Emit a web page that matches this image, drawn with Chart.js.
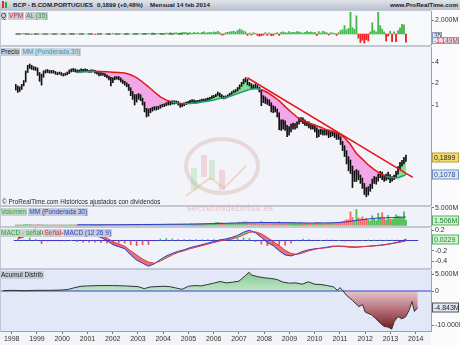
<!DOCTYPE html>
<html>
<head>
<meta charset="utf-8">
<script src="https://cdn.jsdelivr.net/npm/chart.js@4.4.1/dist/chart.umd.min.js"></script>
<style>
  body { margin: 0; width: 460px; height: 345px; overflow: hidden; position: relative;
         background: #c2c8d2; font-family: "Liberation Sans", Arial, sans-serif; }
  canvas { position: absolute; left: 0; }
  #title { position: absolute; left: 0; top: 0; width: 460px; height: 10px;
           background: linear-gradient(#dfe3ea, #b9c2d0); font-size: 6.2px; font-weight: bold;
           line-height: 10px; color: #1a1a2a; white-space: nowrap; }
  #title span { position: absolute; top: 0; }
  #axisBg { position: absolute; left: 431px; top: 10px; width: 29px; height: 335px; background: #fbfbfd; }
  #xBg { position: absolute; left: 0; top: 332px; width: 431px; height: 13px; background: #f3f4f7; }
  .tags { position: absolute; left: 0; display: flex; gap: 1px; z-index: 5; }
  .tags span { font-size: 6.5px; line-height: 8px; height: 8px; padding: 0 1px; background: #c5cdd8;
               white-space: nowrap; }
  #copy { position: absolute; left: 2px; top: 198px; font-size: 6.3px; color: #222; z-index: 5; white-space: nowrap; }
  #mark { position: absolute; left: 187px; top: 203px; font-size: 9px; font-family: "DejaVu Serif", serif;
          color: rgba(215,140,140,0.45); z-index: 5; white-space: nowrap; }
  #logo { position: absolute; left: 180px; top: 130px; z-index: 4; }
</style>
</head>
<body>
<div id="axisBg"></div>
<div id="xBg"></div>
<div id="title">
  <span style="left:2px;top:1px;width:2px;height:7px;background:#d33"></span>
  <span style="left:5px;top:2px;width:2px;height:6px;background:#3a3"></span>
  <span style="left:13px">BCP - B.COM.PORTUGUES</span>
  <span style="left:97px">0,1899 (+0,48%)</span>
  <span style="left:150px">Mensual 14 feb 2014</span>
  <span style="left:auto;right:2px">www.ProRealTime.com</span>
</div>
<div class="tags" style="top:12px"><span style="color:#222">Q</span><span style="color:#e02020">VPM</span><span style="color:#2f9f3a">AL (35)</span></div>
<div class="tags" style="top:48px"><span style="color:#222">Precio</span><span style="color:#3b94a8;background:#ccd8e3">MM (Ponderada 30)</span></div>
<div class="tags" style="top:208px"><span style="color:#2f9f3a;background:#c4d6cb">Volumen</span><span style="color:#2d3dbf">MM (Ponderada 30)</span></div>
<div class="tags" style="top:229px"><span style="color:#2f9f3a;background:#c4d6cb">MACD - señal</span><span style="color:#e03030">Señal</span><span style="color:#2d3dbf">MACD (12 26 9)</span></div>
<div class="tags" style="top:271px"><span style="color:#222">Acumul Distrib</span></div>
<div id="copy">© ProRealTime.com Históricos ajustados con dividendos</div>
<svg id="logo" width="90" height="70">
  <ellipse cx="42" cy="36" rx="36" ry="27" fill="none" stroke="rgba(205,165,150,0.35)" stroke-width="4"/>
  <rect x="11" y="38" width="6" height="22" fill="rgba(120,200,120,0.25)"/>
  <rect x="21" y="25" width="6" height="22" fill="rgba(220,120,120,0.25)"/>
  <rect x="29" y="30" width="6" height="20" fill="rgba(120,200,120,0.25)"/>
  <rect x="39" y="40" width="6" height="20" fill="rgba(220,120,120,0.25)"/>
  <path d="M6 66 L30 48 L44 58 L66 36" fill="none" stroke="rgba(230,170,120,0.35)" stroke-width="2"/>
</svg>
<div id="mark">secretosdebolsa.es</div>

<script>
// --- data ---------------------------------------------------------------
// monthly bars, first one = sep 1997, last one = feb 2014
const START = 1997 + 8 / 12;
const YEARS = [1998, 1999, 2000, 2001, 2002, 2003, 2004, 2005, 2006, 2007, 2008, 2009, 2010, 2011, 2012, 2013, 2014];

const CLOSE = [
  1.85, 1.65, 1.70, 1.90,
  2.10, 2.90, 3.45, 3.55, 3.30, 3.30, 3.25, 2.80, 2.55, 2.50, 2.90, 2.95,
  3.00, 2.90, 2.95, 2.90, 2.80, 2.75, 2.80, 2.70, 2.65, 2.70, 2.80, 3.00,
  3.05, 3.10, 3.00, 2.95, 3.00, 3.10, 3.05, 3.10, 3.00, 2.95, 3.00, 3.00,
  2.90, 2.80, 2.70, 2.75, 2.70, 2.60, 2.50, 2.40, 2.10, 2.30, 2.40, 2.40,
  2.35, 2.20, 2.10, 2.00, 1.90, 1.70, 1.45, 1.35, 1.15, 1.30, 1.35, 1.20,
  1.05, 0.85, 0.72, 0.82, 0.85, 0.88, 0.90, 0.90, 0.92, 0.97, 0.98, 1.00,
  1.03, 1.07, 1.05, 1.10, 1.08, 1.10, 1.05, 0.98, 1.00, 1.03, 1.07, 1.10,
  1.12, 1.15, 1.12, 1.10, 1.12, 1.15, 1.18, 1.17, 1.20, 1.22, 1.25, 1.30,
  1.32, 1.38, 1.45, 1.38, 1.30, 1.28, 1.30, 1.35, 1.42, 1.50, 1.55, 1.60,
  1.70, 1.85, 2.00, 2.20, 2.25, 2.00, 1.95, 1.85, 1.80, 1.85, 1.75, 1.60,
  1.20, 1.25, 1.15, 1.10, 1.05, 0.85, 0.90, 0.85, 0.75, 0.55, 0.50, 0.55,
  0.50, 0.42, 0.45, 0.48, 0.50, 0.50, 0.55, 0.62, 0.63, 0.58, 0.55, 0.55,
  0.52, 0.50, 0.50, 0.47, 0.40, 0.42, 0.43, 0.40, 0.42, 0.41, 0.38, 0.39,
  0.40, 0.38, 0.37, 0.35, 0.30, 0.25, 0.22, 0.18, 0.15, 0.13, 0.09, 0.10,
  0.11, 0.10, 0.09, 0.075, 0.065, 0.060, 0.065, 0.070, 0.085, 0.090, 0.090, 0.100,
  0.110, 0.100, 0.095, 0.100, 0.105, 0.090, 0.095, 0.100, 0.110, 0.130, 0.150, 0.160,
  0.170, 0.190
];
const HIGH = [
  1.95, 1.85, 1.80, 1.95,
  2.20, 3.00, 3.60, 3.75, 3.60, 3.45, 3.40, 3.30, 2.85, 2.70, 3.00, 3.10,
  3.15, 3.05, 3.05, 3.05, 2.95, 2.85, 2.90, 2.85, 2.75, 2.80, 2.90, 3.10,
  3.20, 3.25, 3.20, 3.10, 3.10, 3.20, 3.15, 3.20, 3.15, 3.05, 3.10, 3.10,
  3.05, 2.95, 2.85, 2.85, 2.80, 2.75, 2.65, 2.55, 2.45, 2.40, 2.50, 2.50,
  2.50, 2.40, 2.25, 2.15, 2.05, 1.95, 1.75, 1.55, 1.40, 1.40, 1.45, 1.40,
  1.25, 1.10, 0.90, 0.88, 0.90, 0.93, 0.95, 0.95, 0.96, 1.00, 1.02, 1.04,
  1.08, 1.12, 1.12, 1.15, 1.15, 1.14, 1.12, 1.06, 1.04, 1.07, 1.10, 1.13,
  1.16, 1.19, 1.18, 1.15, 1.16, 1.18, 1.21, 1.21, 1.23, 1.26, 1.28, 1.34,
  1.37, 1.42, 1.52, 1.47, 1.40, 1.34, 1.34, 1.39, 1.46, 1.54, 1.60, 1.65,
  1.76, 1.92, 2.08, 2.30, 2.42, 2.28, 2.08, 2.00, 1.92, 1.98, 1.90, 1.78,
  1.62, 1.35, 1.30, 1.22, 1.18, 1.08, 0.98, 0.95, 0.88, 0.78, 0.62, 0.62,
  0.60, 0.52, 0.50, 0.54, 0.56, 0.55, 0.58, 0.66, 0.67, 0.66, 0.62, 0.59,
  0.58, 0.55, 0.54, 0.53, 0.48, 0.45, 0.46, 0.45, 0.45, 0.45, 0.43, 0.42,
  0.43, 0.42, 0.40, 0.40, 0.36, 0.31, 0.27, 0.23, 0.19, 0.17, 0.14, 0.12,
  0.125, 0.12, 0.105, 0.095, 0.080, 0.070, 0.072, 0.078, 0.092, 0.100, 0.098, 0.108,
  0.118, 0.115, 0.105, 0.108, 0.115, 0.106, 0.100, 0.105, 0.118, 0.138, 0.158, 0.168,
  0.185, 0.200
];
const LOW = [
  1.62, 1.50, 1.55, 1.65,
  1.85, 2.10, 2.85, 3.25, 3.15, 3.10, 3.05, 2.60, 2.15, 1.90, 2.45, 2.80,
  2.85, 2.80, 2.80, 2.80, 2.70, 2.65, 2.70, 2.60, 2.55, 2.60, 2.65, 2.75,
  2.90, 2.95, 2.90, 2.85, 2.85, 2.95, 2.95, 2.95, 2.90, 2.85, 2.85, 2.90,
  2.80, 2.70, 2.55, 2.60, 2.60, 2.50, 2.40, 2.25, 1.85, 2.05, 2.25, 2.30,
  2.25, 2.10, 2.00, 1.90, 1.80, 1.60, 1.35, 1.20, 1.00, 1.10, 1.20, 1.15,
  1.00, 0.80, 0.68, 0.70, 0.78, 0.82, 0.85, 0.85, 0.87, 0.90, 0.94, 0.95,
  0.98, 1.00, 1.00, 1.03, 1.03, 1.05, 1.00, 0.93, 0.95, 0.98, 1.01, 1.05,
  1.07, 1.10, 1.08, 1.06, 1.07, 1.10, 1.13, 1.13, 1.15, 1.17, 1.20, 1.24,
  1.27, 1.31, 1.37, 1.30, 1.24, 1.22, 1.24, 1.28, 1.34, 1.41, 1.48, 1.52,
  1.58, 1.68, 1.82, 1.98, 2.10, 1.92, 1.85, 1.65, 1.68, 1.75, 1.68, 1.52,
  0.98, 1.08, 1.05, 1.02, 0.98, 0.80, 0.78, 0.80, 0.68, 0.45, 0.44, 0.46,
  0.44, 0.36, 0.38, 0.42, 0.46, 0.46, 0.48, 0.54, 0.58, 0.55, 0.52, 0.51,
  0.48, 0.46, 0.46, 0.42, 0.35, 0.36, 0.39, 0.38, 0.38, 0.38, 0.35, 0.36,
  0.37, 0.35, 0.33, 0.33, 0.28, 0.23, 0.19, 0.15, 0.12, 0.11, 0.07, 0.085,
  0.085, 0.090, 0.080, 0.068, 0.056, 0.052, 0.055, 0.062, 0.068, 0.080, 0.078, 0.086,
  0.096, 0.090, 0.085, 0.088, 0.092, 0.082, 0.086, 0.090, 0.095, 0.108, 0.125, 0.140,
  0.150, 0.162
];

// weighted moving average 30
const MA_X = [2000.25, 2000.5, 2000.75, 2001.0, 2001.25, 2001.5, 2001.75, 2002.0, 2002.25, 2002.5, 2002.75,
  2003.0, 2003.25, 2003.5, 2003.75, 2004.0, 2004.25, 2004.5, 2004.75, 2005.0, 2005.25, 2005.5, 2005.75,
  2006.0, 2006.25, 2006.5, 2006.75, 2007.0, 2007.25, 2007.5, 2007.75, 2008.0, 2008.25, 2008.5, 2008.75,
  2009.0, 2009.25, 2009.5, 2009.75, 2010.0, 2010.25, 2010.5, 2010.75, 2011.0, 2011.25, 2011.5, 2011.75,
  2012.0, 2012.25, 2012.5, 2012.75, 2013.0, 2013.25, 2013.5, 2013.75, 2014.0, 2014.083];
const MA_Y = [2.85, 2.90, 2.95, 2.97, 2.95, 2.92, 2.88, 2.85, 2.80, 2.65, 2.42,
  2.10, 1.80, 1.52, 1.30, 1.17, 1.10, 1.06, 1.04, 1.05, 1.07, 1.10, 1.13,
  1.18, 1.23, 1.28, 1.35, 1.45, 1.55, 1.65, 1.70, 1.65, 1.50, 1.32, 1.15,
  0.95, 0.80, 0.68, 0.60, 0.56, 0.52, 0.49, 0.45, 0.43, 0.40, 0.35, 0.28,
  0.21, 0.175, 0.145, 0.125, 0.11, 0.10, 0.097, 0.096, 0.103, 0.108];

// trend line drawn over the 2007-2014 fall
const TREND_X = [2007.41, 2014.37];
const TREND_Y = [2.41, 0.097];

// VPM (millions), monthly like the price
const VPM = [
  0, 0.05, 0, 0.05,
  0.1, 0.05, 0, 0, -0.05, 0, 0.05, 0, 0, 0.05, 0, 0,
  0, 0.05, 0, 0, 0, 0.05, 0, 0, 0.05, 0, 0, 0.05,
  0.1, 0.05, 0, 0.05, 0, 0, 0.05, 0, 0, 0, 0.05, 0,
  -0.05, 0, 0, 0.05, 0, 0, 0, -0.05, 0, 0.1, 0, 0,
  0, 0.05, 0, 0, 0.1, 0.05, 0, 0, 0.05, 0.1, 0.05, 0.05,
  0, 0.1, 0.05, 0.1, 0.05, 0.15, 0.1, 0.05, 0.1, 0.1, 0.1, 0.05,
  0.15, 0.1, 0.2, 0.1, 0.15, 0.2, 0.1, 0.15, 0.2, 0.25, 0.2, 0.15,
  0.2, 0.1, 0.25, 0.15, 0.2, 0.1, 0.25, 0.3, 0.15, 0.2, 0.25, 0.2,
  0.3, 0.25, 0.4, 0.2, -0.15, -0.1, 0.2, 0.25, 0.3, 0.35, 0.4, 0.3,
  0.5, 0.7, 0.6, 0.4, 0.3, -0.2, 0.15, -0.15, 0.2, 0.1, -0.2, -0.3,
  -0.25, -0.15, 0.2, -0.2, 0.15, -0.25, -0.2, 0.1, 0.2, -0.2, 0.25, 0.3,
  0.2, 0.15, 0.35, 0.2, 0.25, 0.2, 0.35, 0.3, 0.2, 0.15, 0.25, 0.4,
  0.25, 0.3, 0.2, 0.25, -0.2, 0.35, 0.15, 0.4, 0.3, 0.2, -0.15, 0.2,
  0.15, 0.1, -0.2, 0.2, 0.5, 0.6, 1.2, 0.6, 0.8, 3.1, 0.9, 0.7,
  2.6, -0.6, -1.2, -0.9, -1.3, -0.8, -1.0, 0.3, 1.6, 0.5, 0.3, 3.1,
  1.2, 0.7, 0.3, -1.0, -0.3, 0.4, -1.1, 0.3, -1.1, 0.5, 0.9, 1.4,
  1.3, -1.15
];

// volume (millions), monthly
const VOLUME = [
  0.10, 0.12, 0.10, 0.08,
  0.15, 0.25, 0.20, 0.18, 0.15, 0.12, 0.12, 0.18, 0.15, 0.16, 0.12, 0.10,
  0.12, 0.10, 0.10, 0.11, 0.10, 0.09, 0.10, 0.09, 0.10, 0.11, 0.10, 0.12,
  0.14, 0.12, 0.13, 0.12, 0.11, 0.12, 0.10, 0.12, 0.11, 0.13, 0.12, 0.11,
  0.14, 0.13, 0.15, 0.14, 0.12, 0.13, 0.12, 0.14, 0.20, 0.16, 0.14, 0.13,
  0.15, 0.14, 0.16, 0.15, 0.17, 0.19, 0.22, 0.20, 0.28, 0.25, 0.21, 0.20,
  0.22, 0.25, 0.30, 0.28, 0.26, 0.27, 0.25, 0.24, 0.26, 0.28, 0.25, 0.27,
  0.30, 0.28, 0.35, 0.30, 0.32, 0.29, 0.31, 0.33, 0.30, 0.35, 0.32, 0.30,
  0.38, 0.40, 0.35, 0.42, 0.37, 0.45, 0.40, 0.38, 0.48, 0.50, 0.55, 0.52,
  0.60, 0.75, 0.85, 0.70, 0.65, 0.55, 0.50, 0.55, 0.60, 0.70, 0.65, 0.60,
  0.80, 0.90, 0.85, 0.95, 1.00, 0.90, 0.75, 0.80, 0.70, 0.65, 0.70, 0.85,
  1.10, 0.85, 0.80, 0.70, 0.65, 0.80, 0.75, 0.60, 0.85, 1.00, 0.75, 0.60,
  0.70, 0.65, 0.75, 0.80, 0.70, 0.65, 0.60, 0.70, 0.75, 0.65, 0.60, 0.55,
  0.60, 0.55, 0.50, 0.60, 0.85, 0.70, 0.60, 0.55, 0.50, 0.60, 0.70, 0.65,
  0.70, 0.75, 0.80, 0.85, 0.90, 1.10, 1.30, 1.60, 1.50, 3.80, 2.20, 1.40,
  4.50, 2.10, 1.80, 2.40, 1.60, 2.00, 1.50, 1.20, 2.70, 1.80, 1.30, 3.40,
  2.20, 3.60, 2.00, 1.50, 2.80, 1.70, 1.60, 1.90, 3.00, 2.60, 2.40, 2.20,
  3.80, 1.51
];
const VOL_MA_X = [2000.25, 2001, 2002, 2003, 2004, 2005, 2006, 2007, 2008, 2009, 2010, 2011, 2011.5, 2012, 2012.5, 2013, 2013.5, 2014.083];
const VOL_MA_Y = [0.15, 0.14, 0.16, 0.22, 0.28, 0.33, 0.48, 0.65, 0.80, 0.75, 0.65, 0.70, 0.90, 1.40, 1.80, 2.10, 2.20, 2.35];

// MACD (12 26 9) and its signal, quarterly
const MACD_X = [1997.75, 1998.0, 1998.25, 1998.5, 1998.75, 1999.0, 1999.25, 1999.5, 1999.75, 2000.0, 2000.25,
  2000.5, 2000.75, 2001.0, 2001.25, 2001.5, 2001.75, 2002.0, 2002.25, 2002.5, 2002.75, 2003.0, 2003.25,
  2003.5, 2003.75, 2004.0, 2004.25, 2004.5, 2004.75, 2005.0, 2005.25, 2005.5, 2005.75, 2006.0, 2006.25,
  2006.5, 2006.75, 2007.0, 2007.25, 2007.5, 2007.75, 2008.0, 2008.25, 2008.5, 2008.75, 2009.0, 2009.25,
  2009.5, 2009.75, 2010.0, 2010.25, 2010.5, 2010.75, 2011.0, 2011.25, 2011.5, 2011.75, 2012.0, 2012.25,
  2012.5, 2012.75, 2013.0, 2013.25, 2013.5, 2013.75, 2014.083];
const MACD = [0.05, 0.08, 0.20, 0.22, 0.12, 0.18, 0.17, 0.14, 0.13, 0.15, 0.14,
  0.13, 0.12, 0.10, 0.06, 0.00, -0.08, -0.12, -0.16, -0.28, -0.38, -0.44, -0.50,
  -0.45, -0.37, -0.30, -0.25, -0.21, -0.18, -0.14, -0.11, -0.08, -0.05, -0.02, 0.01,
  0.03, 0.06, 0.10, 0.16, 0.20, 0.15, 0.06, -0.04, -0.10, -0.20, -0.28, -0.30,
  -0.26, -0.21, -0.18, -0.16, -0.15, -0.13, -0.11, -0.11, -0.12, -0.13, -0.13, -0.12,
  -0.11, -0.10, -0.09, -0.075, -0.055, -0.03, 0.02];
const SIGNAL = [0.03, 0.07, 0.15, 0.20, 0.18, 0.19, 0.18, 0.15, 0.14, 0.15, 0.16,
  0.16, 0.15, 0.13, 0.10, 0.05, -0.02, -0.07, -0.11, -0.20, -0.28, -0.36, -0.42,
  -0.44, -0.40, -0.34, -0.28, -0.23, -0.20, -0.16, -0.13, -0.10, -0.07, -0.04, -0.01,
  0.01, 0.03, 0.06, 0.11, 0.16, 0.17, 0.13, 0.06, -0.02, -0.10, -0.19, -0.25,
  -0.27, -0.24, -0.20, -0.17, -0.15, -0.14, -0.12, -0.11, -0.11, -0.12, -0.125, -0.12,
  -0.115, -0.105, -0.095, -0.08, -0.06, -0.04, -0.01];

// accumulation / distribution (millions)
const AD_X = [1997.67, 1998.0, 1998.5, 1999.0, 1999.5, 2000.0, 2000.25, 2000.5, 2000.75, 2001.0, 2001.5,
  2002.0, 2002.5, 2003.0, 2003.25, 2003.5, 2003.75, 2004.0, 2004.25, 2004.5, 2004.75, 2005.0, 2005.25,
  2005.5, 2005.75, 2006.0, 2006.25, 2006.5, 2006.75, 2007.0, 2007.25, 2007.4, 2007.5, 2007.75, 2008.0,
  2008.25, 2008.5, 2008.75, 2009.0, 2009.25, 2009.5, 2009.75, 2010.0, 2010.25, 2010.5, 2010.75, 2010.9,
  2011.0, 2011.1, 2011.25, 2011.5, 2011.75, 2011.9, 2012.0, 2012.25, 2012.4, 2012.6, 2012.75, 2012.9,
  2013.05, 2013.15, 2013.3, 2013.45, 2013.6, 2013.75, 2013.85, 2013.95, 2014.083];
const AD = [0.1, 0.2, 0.1, 0.2, 0.2, 0.3, 0.5, 1.0, 1.4, 1.5, 1.6,
  1.6, 1.5, 1.3, 0.7, 1.2, 1.3, 1.4, 1.3, 0.9, 0.5, 1.4, 1.6,
  1.5, 1.9, 2.3, 2.8, 2.4, 2.6, 2.9, 4.5, 5.5, 4.7, 4.2, 3.9,
  3.7, 3.4, 2.6, 2.3, 2.4, 2.0, 2.7, 2.0, 1.9, 1.6, 1.2, 0.2,
  1.0, 0.3, -1.2, -2.8, -4.6, -4.0, -6.2, -7.0, -8.0, -9.5, -10.4, -10.6,
  -11.2, -9.0, -7.5, -8.2, -7.6, -5.5, -3.1, -6.0, -4.84];

// --- layout -------------------------------------------------------------
const FAMILY = '"Liberation Sans", Arial, sans-serif';
const X_MIN = 1997.576, X_MAX = 2014.606;
const PAD = 6;
Chart.defaults.font.family = FAMILY;
Chart.defaults.font.size = 7;
Chart.defaults.color = '#333';

const monthX = i => START + i / 12;
const closeAt = x => CLOSE[Math.max(0, Math.min(CLOSE.length - 1, Math.round((x - START) * 12)))];
const pts = (xs, ys) => xs.map((x, i) => ({ x, y: ys[i] }));

// panel background + value boxes on the right axis
const panelPlugin = {
  id: 'panel',
  beforeDraw(chart, args, opts) {
    const { ctx, chartArea: a } = chart;
    ctx.save();
    ctx.fillStyle = opts.bg;
    ctx.fillRect(a.left, a.top, a.right - a.left, a.bottom - a.top);
    ctx.restore();
  },
  afterDraw(chart, args, opts) {
    const { ctx } = chart;
    const y = chart.scales.y;
    (opts.boxes || []).forEach(b => {
      const h = b.h || 9, w = b.w || 26;
      const py = Math.round(y.getPixelForValue(b.v)) + 0.5;
      ctx.save();
      ctx.fillStyle = b.bg;
      ctx.strokeStyle = b.border;
      ctx.lineWidth = 1;
      ctx.fillRect(432.5, py - h / 2, w, h);
      ctx.strokeRect(432.5, py - h / 2, w, h);
      ctx.fillStyle = b.color;
      ctx.font = (b.h ? 6.5 : 7) + 'px ' + FAMILY;
      ctx.textBaseline = 'middle';
      ctx.fillText(b.text, 434, py + 0.5);
      ctx.restore();
    });
  }
};

function makeCanvas(top, height, withX) {
  const cv = document.createElement('canvas');
  cv.width = 460;
  cv.height = height + PAD + (withX ? 14 : PAD);
  cv.style.top = (top - PAD) + 'px';
  document.body.appendChild(cv);
  return cv;
}

function yAxis(type, min, max, ticks, fmt) {
  return {
    type, min, max, position: 'right',
    afterFit: s => { s.width = 29; },
    afterBuildTicks: s => { s.ticks = ticks.map(v => ({ value: v })); },
    grid: { drawOnChartArea: false, tickLength: 3, color: '#777' },
    border: { color: '#9aa0ac' },
    ticks: { padding: 1, color: '#333', callback: fmt }
  };
}

function xAxis(show) {
  const ax = {
    type: 'linear', min: X_MIN, max: X_MAX, display: show,
    afterBuildTicks: s => { s.ticks = YEARS.map(v => ({ value: v })); },
    grid: { drawOnChartArea: false, tickLength: 3, color: '#777' },
    border: { color: '#9aa0ac' },
    ticks: { autoSkip: false, maxRotation: 0, padding: 1, color: '#333', callback: v => String(v) }
  };
  if (show) ax.afterFit = s => { s.height = 14; };
  return ax;
}

function makeChart(cv, datasets, y, panel, withX) {
  return new Chart(cv, {
    type: 'line',
    data: { datasets },
    options: {
      responsive: false, animation: false, events: [],
      layout: { autoPadding: false, padding: { top: PAD, bottom: withX ? 0 : PAD, left: 1, right: 0 } },
      elements: { point: { radius: 0 }, line: { tension: 0 } },
      plugins: { legend: { display: false }, tooltip: { enabled: false },
                 filler: { drawTime: 'beforeDatasetsDraw' }, panel },
      scales: { x: xAxis(withX), y }
    },
    plugins: [panelPlugin]
  });
}

const mFmt = v => (v === 0 ? '0' : v.toFixed(3) + 'M');

// 1) VPM
makeChart(makeCanvas(11, 34, false), [
  { data: [{ x: START, y: 0 }, { x: 2004.95, y: 0 }], borderColor: '#444', borderWidth: 1, borderDash: [5, 4] },
  { type: 'bar', data: pts(VPM.map((v, i) => monthX(i)), VPM), barThickness: 1.2,
    backgroundColor: VPM.map(v => v >= 0 ? '#46b94a' : '#ee2222') }
], yAxis('linear', -1.57, 3.29, [2], mFmt), {
  bg: '#f7f8fc',
  boxes: [
    { v: -0.07, h: 6, w: 9, text: '35', bg: '#e4e9f2', border: '#8a9ab8', color: '#444' },
    { v: -0.85, h: 6, text: '-1.149M', bg: '#dfe6f2', border: '#8a9ab8', color: '#e02020' }
  ]
}, false);

// 2) price, MM 30 and trend line
const maColor = c => {
  const i = c.p0DataIndex;
  const mx = (MA_X[i] + MA_X[i + 1]) / 2, my = (MA_Y[i] + MA_Y[i + 1]) / 2;
  return my > closeAt(mx) ? '#e01818' : '#1f9e7a';
};
const closePts = CLOSE.map((c, i) => ({ x: monthX(i), y: c })).filter(p => p.x >= MA_X[0] - 0.01);
makeChart(makeCanvas(47, 158, false), [
  { data: pts(TREND_X, TREND_Y), borderColor: '#e8161b', borderWidth: 1.5 },
  { data: pts(MA_X, MA_Y), borderWidth: 1.5, borderColor: '#e01818', segment: { borderColor: maColor } },
  { type: 'bar', data: HIGH.map((h, i) => ({ x: monthX(i), y: [LOW[i], h] })), barThickness: 1,
    backgroundColor: '#111' },
  { data: closePts, borderWidth: 0, borderColor: 'rgba(0,0,0,0)',
    fill: { target: 1, above: 'rgba(120,222,130,0.9)', below: 'rgba(242,160,228,0.9)' } }
], yAxis('logarithmic', 0.0399, 6.49, [1, 2, 4], v => String(v)), {
  bg: '#f3f4fa',
  boxes: [
    { v: 0.1899, text: '0,1899', bg: '#f2dc6a', border: '#b8a040', color: '#222' },
    { v: 0.1078, text: '0,1078', bg: '#dbe6f5', border: '#6f8fc4', color: '#2a4a8a' }
  ]
}, false);

// 3) volume
makeChart(makeCanvas(207, 19, false), [
  { data: pts(VOL_MA_X, VOL_MA_Y), borderColor: '#2d3dcc', borderWidth: 1 },
  { type: 'bar', data: pts(VOLUME.map((v, i) => monthX(i)), VOLUME), barThickness: 1.2,
    backgroundColor: CLOSE.map((c, i) => (i === 0 || c >= CLOSE[i - 1]) ? '#4cc050' : '#f06a6a') }
], yAxis('linear', -0.2, 5.2, [5], mFmt), {
  bg: '#f0f2fa',
  boxes: [{ v: 1.506, text: '1.506M', bg: '#d3f2d3', border: '#58b060', color: '#208030' }]
}, false);

// 4) MACD
makeChart(makeCanvas(228, 40, false), [
  { data: pts(MACD_X, SIGNAL), borderColor: '#e03a3a', borderWidth: 1 },
  { data: pts(MACD_X, MACD), borderColor: '#3434c8', borderWidth: 1,
    fill: { target: 0, above: 'rgba(100,205,100,0.85)', below: 'rgba(228,92,92,0.85)' } },
  { type: 'bar', data: pts(MACD_X, MACD.map((m, i) => m - SIGNAL[i])), barThickness: 1,
    backgroundColor: MACD.map((m, i) => m >= SIGNAL[i] ? '#4cc050' : '#ee5050') },
  { data: [{ x: X_MIN, y: 0 }, { x: X_MAX, y: 0 }], borderColor: '#3a3ad0', borderWidth: 1 }
], yAxis('linear', -0.534, 0.243, [0.2, 0, -0.2, -0.4], v => String(v)), {
  bg: '#f0f2fa',
  boxes: [{ v: 0.0229, text: '0.0229', bg: '#d3f2d3', border: '#58b060', color: '#208030' }]
}, false);

// 5) accumulation / distribution + time axis
const adCanvas = makeCanvas(270, 61, true);
const g = adCanvas.getContext('2d');
const adUp = g.createLinearGradient(0, PAD, 0, PAD + 21);
adUp.addColorStop(0, '#7cc68b');
adUp.addColorStop(1, '#bfe6c6');
const adDown = g.createLinearGradient(0, PAD + 21, 0, PAD + 61);
adDown.addColorStop(0, '#e6c6cf');
adDown.addColorStop(0.5, '#b26a72');
adDown.addColorStop(1, '#6c1414');
makeChart(adCanvas, [
  { data: pts(AD_X, AD), borderColor: '#333', borderWidth: 1,
    fill: { target: { value: 0 }, above: adUp, below: adDown } },
  { data: [{ x: X_MIN, y: 0 }, { x: X_MAX, y: 0 }], borderColor: '#3a3ad0', borderWidth: 1 }
], yAxis('linear', -11.76, 6.18, [5, 0, -10], mFmt), {
  bg: '#e2e8f8',
  boxes: [{ v: -4.843, text: '-4.843M', bg: '#dfe6f2', border: '#555', color: '#222' }]
}, true);
</script>
</body>
</html>
